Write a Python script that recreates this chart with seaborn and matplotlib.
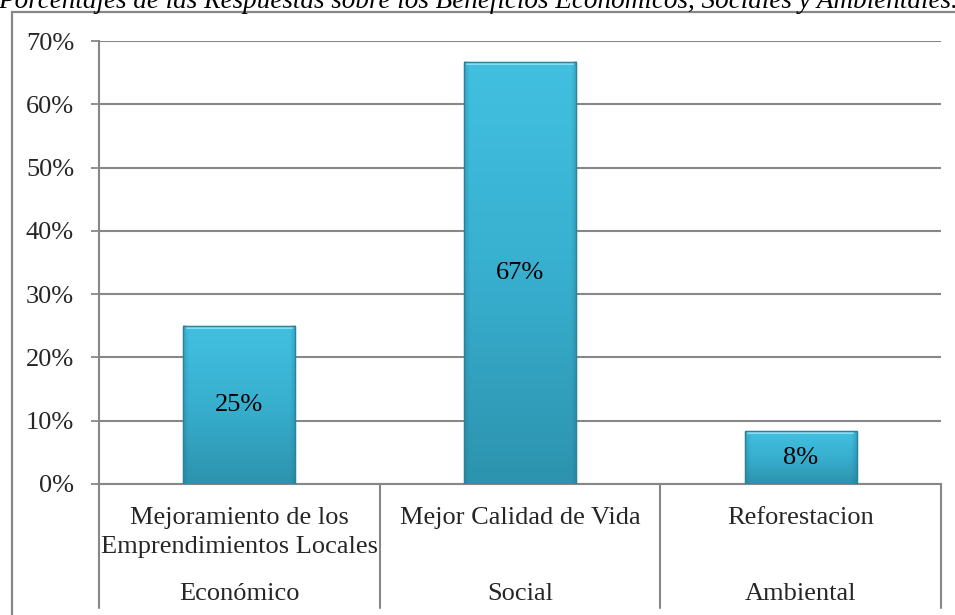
import numpy as np
import pandas as pd
import matplotlib
matplotlib.use("Agg")
import matplotlib.pyplot as plt
from matplotlib.colors import LinearSegmentedColormap
from matplotlib.lines import Line2D
import seaborn as sns

# ---- data ----
categories = ["Mejoramiento de los\nEmprendimientos Locales", "Mejor Calidad de Vida", "Reforestacion"]
groups = ["Económico", "Social", "Ambiental"]
values = [25.0, 66.7, 8.3]
value_labels = ["25%", "67%", "8%"]
yticks = [0, 10, 20, 30, 40, 50, 60, 70]
ytick_labels = ["0%", "10%", "20%", "30%", "40%", "50%", "60%", "70%"]
title = "Porcentajes de las Respuestas sobre los Beneficios Económicos, Sociales y Ambientales."

sns.set_theme(style="white")
plt.rcParams['font.family'] = ['Liberation Serif', 'DejaVu Serif']

FS = 19
W, H = 955, 615
fig = plt.figure(figsize=(W / 100, H / 100), dpi=100)
ax = fig.add_axes([99 / W, 1 - 484 / H, (941 - 99) / W, (484 - 41) / H])

df = pd.DataFrame({"cat": categories, "val": values})
sns.barplot(data=df, x="cat", y="val", ax=ax, width=0.4, color="#3bb5d6",
            edgecolor="#2a8299", linewidth=0.8, zorder=3)

ax.set_ylim(0, 70)
ax.set_xlim(-0.5, 2.5)
ax.set_yticks(yticks)
ax.set_yticklabels(ytick_labels, fontsize=FS)
ax.set_xticks([])
ax.set_xlabel("")
ax.set_ylabel("")
ax.grid(axis="y", color="#878787", linewidth=1.5, zorder=0)
ax.tick_params(axis="y", length=6, width=1.3, color="#878787", pad=12, left=True)
for s in ["top", "right"]:
    ax.spines[s].set_visible(False)
for s in ["left", "bottom"]:
    ax.spines[s].set_color("#878787")
    ax.spines[s].set_linewidth(1.5)

# gradient fill for bars
cmap = LinearSegmentedColormap.from_list("g", ["#2d93ae", "#38afcf", "#42c0e0"])
side = LinearSegmentedColormap.from_list("s", [(0.12, 0.45, 0.55, 0.35), (0.12, 0.45, 0.55, 0.0)])
grad = np.linspace(0, 1, 256).reshape(-1, 1)
hgrad = np.linspace(0, 1, 64).reshape(1, -1)
for p, lab in zip(ax.patches, value_labels):
    x0, y0 = p.get_x(), p.get_y()
    w, h = p.get_width(), p.get_height()
    im = ax.imshow(grad, extent=[x0, x0 + w, y0, y0 + h], origin="lower",
                   cmap=cmap, aspect="auto", zorder=3.5)
    im.set_clip_path(p)
    # darker bevel on the sides
    sw = w * 0.05
    for xa, xb_, arr in [(x0, x0 + sw, hgrad), (x0 + w - sw, x0 + w, hgrad[:, ::-1])]:
        ax.imshow(arr, extent=[xa, xb_, y0, y0 + h], cmap=side, aspect="auto",
                  zorder=3.6, vmin=0, vmax=1)
    # light bevel at top
    ax.add_line(Line2D([x0 + w * 0.03, x0 + w * 0.97], [y0 + h - 0.3, y0 + h - 0.3],
                       color="#86dcf2", linewidth=1.5, zorder=3.7))
    ax.text(x0 + w / 2, y0 + h / 2, lab, ha="center", va="center",
            fontsize=FS, color="black", zorder=5)
    ax.add_patch(plt.Rectangle((x0, y0), w, h, fill=False, edgecolor="#2a8299",
                               linewidth=1.0, zorder=3.8))

ax.set_xlim(-0.5, 2.5)
ax.set_ylim(0, 70)

# multi-level category axis
trans = ax.get_xaxis_transform()
ph = 484 - 41
for xb in [-0.5, 0.5, 1.5, 2.5]:
    ax.add_line(Line2D([xb, xb], [0, -(608 - 484) / ph], transform=trans,
                       color="#878787", linewidth=1.5, clip_on=False))
for i, (c, g) in enumerate(zip(categories, groups)):
    ax.text(i, -(507 - 484) / ph, c, transform=trans, ha="center", va="top",
            fontsize=FS, linespacing=1.4)
    ax.text(i, -(594 - 484) / ph, g, transform=trans, ha="center", va="center",
            fontsize=FS)

# outer frame (partially visible)
fig.add_artist(Line2D([12 / W, 12 / W], [0, 1 - 12 / H], transform=fig.transFigure,
                      color="#878787", linewidth=1.6))
fig.add_artist(Line2D([12 / W, 1], [1 - 12 / H, 1 - 12 / H], transform=fig.transFigure,
                      color="#878787", linewidth=1.6))

# title, cut by the top edge (as in the reference)
fig.text(-2 / W, 1 - 8 / H, title, ha="left", va="baseline", fontsize=19.5,
         style="italic", color="black")

fig.savefig("out.png", dpi=100)
